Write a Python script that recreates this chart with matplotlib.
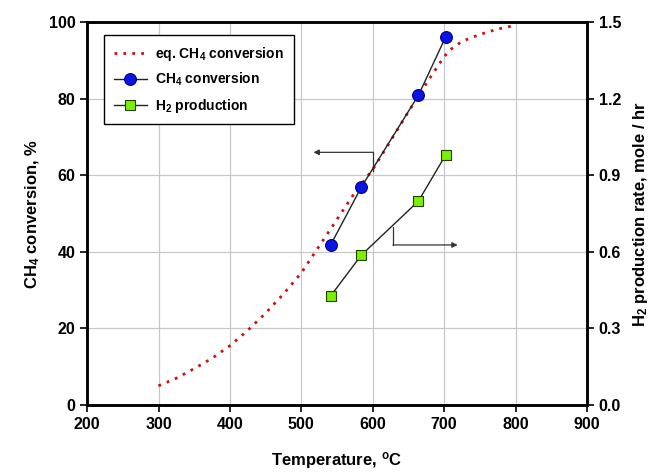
import matplotlib
matplotlib.use('Agg')
import matplotlib.pyplot as plt

plt.rcParams['font.family'] = ['Liberation Sans', 'DejaVu Sans']
plt.rcParams['font.weight'] = 'bold'
plt.rcParams['mathtext.default'] = 'regular'

# equilibrium CH4 conversion (dotted curve)
eq_temp = [300, 325, 350, 375, 400, 425, 450, 475, 500, 525, 550, 575, 600,
           625, 650, 675, 700, 710, 725, 750, 775, 800]
eq_conv = [5, 7, 9.5, 12.2, 15.5, 19.5, 24, 29, 34.5, 41.5, 48.5, 55.5, 61.5,
           69, 76.6, 84, 91, 93, 95, 96.8, 98.2, 99.2]

# measured data
temp = [541, 584, 664, 702]
ch4_conv = [41.8, 56.9, 80.9, 96.1]
h2_rate = [0.427, 0.587, 0.799, 0.979]

fig = plt.figure(figsize=(6.5, 4.72), dpi=100)
ax = fig.add_axes([0.134, 0.142, 0.769, 0.811])
ax2 = ax.twinx()

ax.grid(True, color='#c8c8c8', lw=0.9)
ax.set_axisbelow(True)

l_eq, = ax.plot(eq_temp, eq_conv, ls=(0, (1, 2.2)), color='#cc1111', lw=2.0,
                label='eq. CH$_4$ conversion', zorder=3)
l_ch4, = ax.plot(temp, ch4_conv, '-o', color='#222222', lw=1.0, ms=8.5,
                 mfc='#0a14e6', mec='#000080', mew=0.8,
                 label='CH$_4$ conversion', zorder=4)
l_h2, = ax2.plot(temp, h2_rate, '-s', color='#222222', lw=1.0, ms=7.5,
                 mfc='#7cf000', mec='#204000', mew=0.8,
                 label='H$_2$ production', zorder=4)

# annotation arrows
ax.plot([600, 600], [61, 66], color='#333333', lw=0.9)
ax.annotate('', xy=(517, 66), xytext=(600.5, 66),
            arrowprops=dict(arrowstyle='-|>', color='#333333', lw=0.9,
                            mutation_scale=8, shrinkA=0, shrinkB=0))
ax.plot([629, 629], [46.5, 41.8], color='#333333', lw=0.9)
ax.annotate('', xy=(719, 41.8), xytext=(628.5, 41.8),
            arrowprops=dict(arrowstyle='-|>', color='#333333', lw=0.9,
                            mutation_scale=8, shrinkA=0, shrinkB=0))

ax.set_xlim(200, 900)
ax.set_ylim(0, 100)
ax2.set_ylim(0, 1.5)
ax.set_xticks(range(200, 901, 100))
ax.set_yticks(range(0, 101, 20))
ax2.set_yticks([0.0, 0.3, 0.6, 0.9, 1.2, 1.5])
ax2.set_yticklabels(['0.0', '0.3', '0.6', '0.9', '1.2', '1.5'])

for a in (ax, ax2):
    for s in a.spines.values():
        s.set_linewidth(1.8)
    a.tick_params(labelsize=11.5, width=1.2, length=5)

ax.set_xlabel('Temperature, $^o$C', fontsize=12, fontweight='bold', labelpad=13)
ax.set_ylabel('CH$_4$ conversion, %', fontsize=12, fontweight='bold', labelpad=5)
ax2.set_ylabel('H$_2$ production rate, mole / hr', fontsize=12,
               fontweight='bold', labelpad=7)

leg = ax.legend(handles=[l_eq, l_ch4, l_h2], loc='upper left',
                bbox_to_anchor=(0.02, 0.985), fontsize=10, fancybox=False,
                edgecolor='black', framealpha=1, handlelength=2.4,
                borderpad=0.7, labelspacing=0.6, handletextpad=0.6)
leg.get_frame().set_linewidth(1.0)
leg.set_zorder(10)

fig.savefig('out.png', dpi=100)
